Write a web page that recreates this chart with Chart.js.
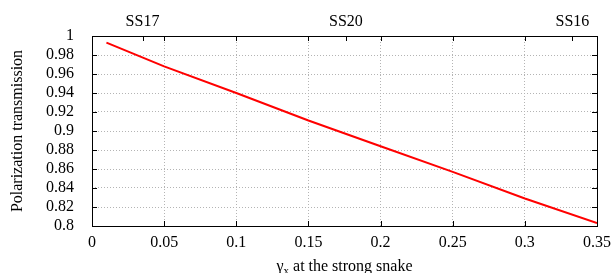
<!DOCTYPE html>
<html>
<head>
<meta charset="utf-8">
<script src="https://cdn.jsdelivr.net/npm/chart.js@4.4.1/dist/chart.umd.min.js"></script>
<style>
  html, body { margin: 0; padding: 0; background: #fff; }
  canvas { display: block; }
</style>
</head>
<body>
<canvas id="chart" width="613" height="273"></canvas>
<script>
// values
const gammaX = [0.01, 0.05, 0.1, 0.15, 0.2, 0.25, 0.3, 0.35];
const transmission = [0.993, 0.968, 0.940, 0.911, 0.884, 0.857, 0.829, 0.803];
const snakePos = [0.035, 0.176, 0.333];
const snakeLabels = ['SS17', 'SS20', 'SS16'];

const serif = "'Liberation Serif', 'Times New Roman', serif";
const tickFont = { family: serif, size: 16 };

// gnuplot style frame, inward ticks and subscripted x label
const framePlugin = {
    id: 'frame',
    afterDraw(chart) {
        const { ctx, chartArea: a, scales } = chart;
        const len = 5;
        ctx.save();
        ctx.strokeStyle = '#000';
        ctx.lineWidth = 1;
        ctx.beginPath();
        scales.x.ticks.forEach(t => {
            const px = Math.round(scales.x.getPixelForValue(t.value)) + 0.5;
            ctx.moveTo(px, a.bottom); ctx.lineTo(px, a.bottom - len);
            ctx.moveTo(px, a.top); ctx.lineTo(px, a.top + len);
        });
        scales.x2.ticks.forEach(t => {
            const px = Math.round(scales.x2.getPixelForValue(t.value)) + 0.5;
            ctx.moveTo(px, a.top); ctx.lineTo(px, a.top + len);
        });
        scales.y.ticks.forEach(t => {
            const py = Math.round(scales.y.getPixelForValue(t.value)) + 0.5;
            ctx.moveTo(a.left, py); ctx.lineTo(a.left + len, py);
            ctx.moveTo(a.right, py); ctx.lineTo(a.right - len, py);
        });
        ctx.stroke();
        ctx.strokeRect(Math.round(a.left) + 0.5, Math.round(a.top) + 0.5,
            Math.round(a.right - a.left), Math.round(a.bottom - a.top));

        // x axis title: gamma with subscript x
        ctx.fillStyle = '#000';
        ctx.textBaseline = 'alphabetic';
        const big = '16px ' + serif, small = '11px ' + serif;
        ctx.font = big;
        const w1 = ctx.measureText('γ').width;
        const w3 = ctx.measureText(' at the strong snake').width;
        ctx.font = small;
        const w2 = ctx.measureText('x').width;
        let x = (a.left + a.right) / 2 - (w1 + w2 + w3) / 2;
        const y = 271;
        ctx.font = big;
        ctx.fillText('γ', x, y);
        x += w1;
        ctx.font = small;
        ctx.fillText('x', x, y + 3);
        x += w2;
        ctx.font = big;
        ctx.fillText(' at the strong snake', x, y);
        ctx.restore();
    }
};

const fitX = h => s => { s.height = h; s.paddingLeft = 0; s.paddingRight = 0; };

new Chart(document.getElementById('chart'), {
    type: 'line',
    data: {
        datasets: [{
            data: gammaX.map((g, i) => ({ x: g, y: transmission[i] })),
            borderColor: '#ff0000',
            borderWidth: 2,
            pointRadius: 0,
            fill: false,
            tension: 0
        }]
    },
    options: {
        responsive: false,
        animation: false,
        devicePixelRatio: 1,
        layout: { padding: { left: 0, right: 16, top: 0, bottom: 0 } },
        plugins: { legend: { display: false }, tooltip: { enabled: false } },
        scales: {
            x: {
                type: 'linear',
                position: 'bottom',
                min: 0,
                max: 0.35,
                afterFit: fitX(47),
                ticks: {
                    stepSize: 0.05,
                    autoSkip: false,
                    maxRotation: 0,
                    color: '#000',
                    font: tickFont,
                    padding: 7,
                    callback: v => String(Number(v.toFixed(2)))
                },
                grid: { color: '#b4b4b4', lineWidth: 1, drawTicks: false },
                border: { display: false, dash: [1, 2] }
            },
            x2: {
                type: 'linear',
                position: 'top',
                min: 0,
                max: 0.35,
                afterFit: fitX(36),
                afterBuildTicks: s => { s.ticks = snakePos.map(v => ({ value: v })); },
                ticks: {
                    autoSkip: false,
                    maxRotation: 0,
                    color: '#000',
                    font: tickFont,
                    padding: 5,
                    callback: (v, i) => snakeLabels[i]
                },
                grid: { display: false, drawTicks: false },
                border: { display: false }
            },
            y: {
                min: 0.8,
                max: 1,
                afterFit: s => { s.width = 92; s.paddingTop = 0; s.paddingBottom = 0; },
                ticks: {
                    stepSize: 0.02,
                    autoSkip: false,
                    color: '#000',
                    font: tickFont,
                    padding: 18,
                    callback: v => String(Number(v.toFixed(2)))
                },
                grid: { color: '#b4b4b4', lineWidth: 1, drawTicks: false },
                border: { display: false, dash: [1, 2] },
                title: {
                    display: true,
                    text: 'Polarization transmission',
                    color: '#000',
                    font: { family: serif, size: 16 },
                    padding: { top: 8, bottom: 0 }
                }
            }
        }
    },
    plugins: [framePlugin]
});
</script>
</body>
</html>
